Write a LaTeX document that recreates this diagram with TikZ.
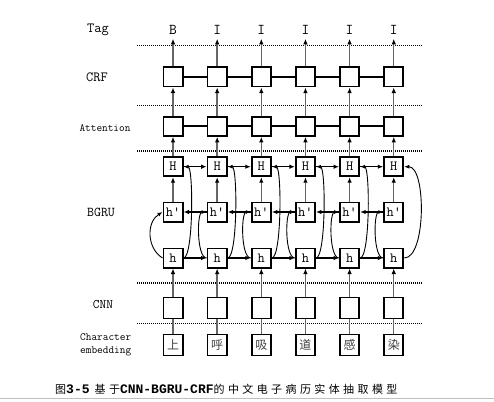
\documentclass[tikz,border=0pt]{standalone}
\usepackage{fontspec}
\newfontfamily\capmono{Liberation Mono}
\newfontfamily\cjk{Noto Sans CJK SC}
\usetikzlibrary{arrows.meta}
\tikzset{
  cell/.style={draw,line width=1.8pt,minimum width=19.2pt,minimum height=19.2pt,inner sep=0pt,font=\ttfamily\fontsize{14}{14}\selectfont},
  tallcell/.style={cell,minimum height=21pt},
  lbl/.style={font=\ttfamily\fontsize{14}{14}\selectfont,inner sep=0pt},
  sep/.style={line width=1.3pt,dash pattern=on 1.1pt off 0.9pt},
  up/.style={line width=1.4pt,draw=black!60,-{Latex[length=5.5pt,width=4.5pt,color=black]}},
  feed/.style={line width=1.4pt,draw=black!60},
  link/.style={line width=1.7pt},
  flow/.style={line width=1.5pt,-{Latex[length=5.5pt,width=4.5pt]}},
  loopback/.style={line width=0.9pt,-{Latex[length=5pt,width=4pt]}}
}
\newcommand\capgap{\hspace{3.4pt}}

\begin{document}
\begin{tikzpicture}[x=1pt,y=-1pt]
\useasboundingbox (0,0) rectangle (494,401);

% layer names
\node[lbl] (nTag) at (98,30) {Tag};
\node[lbl] (nCrf) at (97,77) {CRF};
\node[lbl,font=\ttfamily\fontsize{11}{11}\selectfont] (nAtt) at (105,128) {Attention};
\node[lbl,font=\ttfamily\fontsize{13.5}{13.5}\selectfont] (nBgru) at (101,212) {BGRU};
\node[lbl,font=\ttfamily\fontsize{13}{13}\selectfont] (nCnn) at (103,305) {CNN};
\node[lbl,anchor=west,align=left,font=\ttfamily\fontsize{11}{13.5}\selectfont] (nEmb) at (80,345) {Character\\embedding};

% dotted separators
\foreach \yy in {45.7,105.7,151,283,323.3}
  \draw[sep] (137,\yy) -- (422,\yy);

% columns
\foreach \t/\c [count=\i] in {B/上,I/呼,I/吸,I/道,I/感,I/染} {
  \pgfmathsetmacro\xx{128.85+44.15*\i}
  \node[lbl,font=\ttfamily\fontsize{15}{15}\selectfont] (tag\i) at (\xx,30) {\t};
  \node[cell] (crf\i) at (\xx,77) {};
  \node[cell] (att\i) at (\xx,126.3) {};
  \node[cell] (H\i) at (\xx,166.7) {H};
  \node[cell] (hb\i) at (\xx,212) {h'};
  \node[cell] (h\i) at (\xx,258) {h};
  \node[tallcell] (cnn\i) at (\xx,308) {};
  \node[tallcell,text=black!75,font=\cjk\fontsize{12}{12}\selectfont] (ch\i) at (\xx,345) {\c};
}

% vertical flow
\foreach \i in {1,...,6} {
  \draw[up,shorten >=4pt] (crf\i) -- (tag\i);
  \draw[up] (att\i) -- (crf\i);
  \draw[up] (H\i) -- (att\i);
  \draw[up] (hb\i) -- (H\i);
  \draw[up] (cnn\i) -- (h\i);
  \draw[feed] (ch\i) -- (cnn\i);
}

% horizontal links
\foreach \i [evaluate=\i as \j using int(\i+1)] in {1,...,5} {
  \draw[link] (crf\i) -- (crf\j);
  \draw[link] (att\i) -- (att\j);
  \draw[flow] (H\i) -- (H\j);
  \draw[flow] (h\i) -- (h\j);
  \draw[flow] (hb\j) -- (hb\i);
}

% BGRU side curves
\foreach \i in {1,...,5}
  \draw[loopback] (h\i.east) .. controls +(10,0) and +(10,0) .. (H\i.east);
\draw[loopback] (h6.east) .. controls +(22,0) and +(22,0) .. (H6.east);
\draw[loopback] (h1.west) .. controls +(-16,-10) and +(-16,10) .. (hb1.west);
\foreach \i in {2,...,6}
  \draw[loopback] (h\i.west) .. controls +(-10,0) and +(-10,0) .. (hb\i.west);

% caption
\node[anchor=west,inner sep=0pt] (cap) at (55,389) {\cjk\fontsize{11}{11}\selectfont 图{\capmono\bfseries\fontsize{13}{13}\selectfont 3-5}\hspace{5pt}基\capgap 于{\capmono\bfseries\fontsize{13}{13}\selectfont CNN-BGRU-CRF}的\capgap 中\capgap 文\capgap 电\capgap 子\capgap 病\capgap 历\capgap 实\capgap 体\capgap 抽\capgap 取\capgap 模\capgap 型};
\draw[black!25,line width=0.8pt] (0,398.5) -- (494,398.5);

\end{tikzpicture}
\end{document}
